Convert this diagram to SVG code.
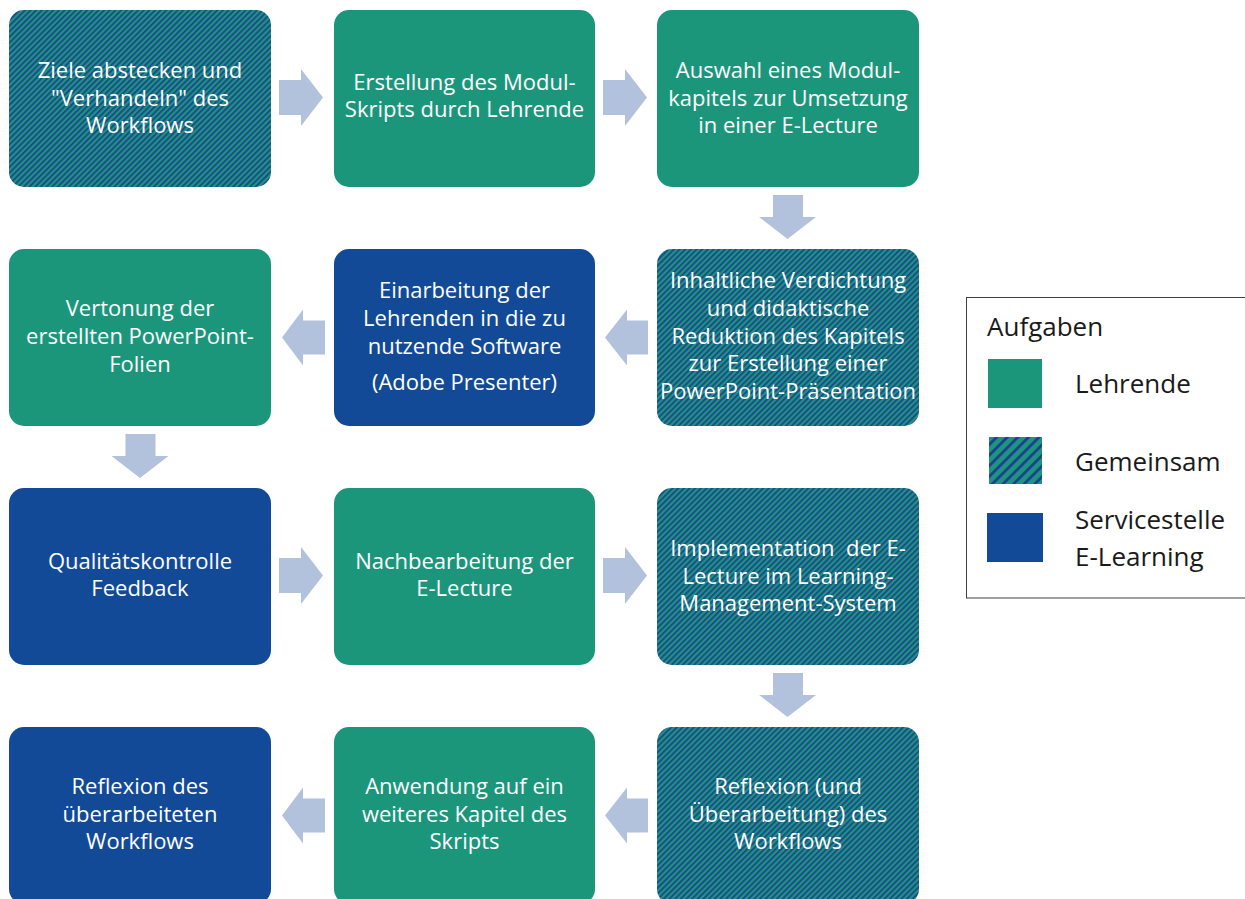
<svg xmlns="http://www.w3.org/2000/svg" width="1245" height="899" viewBox="0 0 1245 899">
<style>
.box{stroke:none}
.g{fill:#1b967b}
.b{fill:#124a97}
.s{fill:url(#stripes)}
.t{font-family:"Open Sans","Liberation Sans",sans-serif;font-size:22px;fill:#ffffff;text-anchor:middle;white-space:pre}
.lt{font-family:"Open Sans","Liberation Sans",sans-serif;font-size:26px;fill:#1a1a1a}
.arr{fill:#b3c2dc}
</style>
<defs>
<pattern id="stripes" patternUnits="userSpaceOnUse" width="4" height="4" patternTransform="rotate(45)">
<rect width="4" height="4" fill="#1b967b"/>
<rect width="1.7" height="4" fill="#1f3f94"/>
</pattern>
<pattern id="stripesL" patternUnits="userSpaceOnUse" width="7.5" height="7.5" patternTransform="rotate(45)">
<rect width="7.5" height="7.5" fill="#1b967b"/>
<rect width="2.8" height="7.5" fill="#1f3f94"/>
</pattern>
</defs>
<rect width="1245" height="899" fill="#ffffff"/>

<g id="connectors">
<polygon class="arr" points="279,80 301,80 301,69 323,97.5 301,126 301,115 279,115"/>
<polygon class="arr" points="603,80 625,80 625,69 647,97.5 625,126 625,115 603,115"/>
<polygon class="arr" points="773,195 803,195 803,217 816,217 787.5,239 759,217 773,217"/>
<polygon class="arr" points="648,320.5 627,320.5 627,309.5 605,337.5 627,365.5 627,354.5 648,354.5"/>
<polygon class="arr" points="325,320.5 303,320.5 303,309.5 282,337.5 303,365.5 303,354.5 325,354.5"/>
<polygon class="arr" points="125.5,434 155.5,434 155.5,456 168.5,456 140,478 111.5,456 125.5,456"/>
<polygon class="arr" points="279,558 301,558 301,547 323,575.5 301,604 301,593 279,593"/>
<polygon class="arr" points="603,558 625,558 625,547 647,575.5 625,604 625,593 603,593"/>
<polygon class="arr" points="773,673 803,673 803,695 816,695 787.5,717 759,695 773,695"/>
<polygon class="arr" points="648,798.5 627,798.5 627,787.5 605,815.5 627,843.5 627,832.5 648,832.5"/>
<polygon class="arr" points="325,798.5 303,798.5 303,787.5 282,815.5 303,843.5 303,832.5 325,832.5"/>
</g>

<g id="n1">
<rect class="box s" x="9" y="10" width="262" height="177" rx="15"/>
<text class="t" x="140" y="78">Ziele abstecken und</text>
<text class="t" x="140" y="105.5">"Verhandeln" des</text>
<text class="t" x="140" y="133">Workflows</text>
</g>
<g id="n2">
<rect class="box g" x="334" y="10" width="261" height="177" rx="15"/>
<text class="t" x="464.5" y="90">Erstellung des Modul-</text>
<text class="t" x="464.5" y="117">Skripts durch Lehrende</text>
</g>
<g id="n3">
<rect class="box g" x="657" y="10" width="262" height="177" rx="15"/>
<text class="t" x="788" y="78">Auswahl eines Modul-</text>
<text class="t" x="788" y="105.5">kapitels zur Umsetzung</text>
<text class="t" x="788" y="133">in einer E-Lecture</text>
</g>
<g id="n4">
<rect class="box s" x="657" y="249" width="262" height="177" rx="15"/>
<text class="t" x="788" y="288">Inhaltliche Verdichtung</text>
<text class="t" x="788" y="316">und didaktische</text>
<text class="t" x="788" y="344">Reduktion des Kapitels</text>
<text class="t" x="788" y="371">zur Erstellung einer</text>
<text class="t" x="788" y="399" textLength="256" lengthAdjust="spacingAndGlyphs">PowerPoint-Präsentation</text>
</g>
<g id="n5">
<rect class="box b" x="334" y="249" width="261" height="177" rx="15"/>
<text class="t" x="464.5" y="298">Einarbeitung der</text>
<text class="t" x="464.5" y="326">Lehrenden in die zu</text>
<text class="t" x="464.5" y="354">nutzende Software</text>
<text class="t" x="464.5" y="390">(Adobe Presenter)</text>
</g>
<g id="n6">
<rect class="box g" x="9" y="249" width="262" height="177" rx="15"/>
<text class="t" x="140" y="316">Vertonung der</text>
<text class="t" x="140" y="344">erstellten PowerPoint-</text>
<text class="t" x="140" y="372">Folien</text>
</g>
<g id="n7">
<rect class="box b" x="9" y="488" width="262" height="177" rx="15"/>
<text class="t" x="140" y="569">Qualitätskontrolle</text>
<text class="t" x="140" y="596">Feedback</text>
</g>
<g id="n8">
<rect class="box g" x="334" y="488" width="261" height="177" rx="15"/>
<text class="t" x="464.5" y="569">Nachbearbeitung der</text>
<text class="t" x="464.5" y="596">E-Lecture</text>
</g>
<g id="n9">
<rect class="box s" x="657" y="488" width="262" height="177" rx="15"/>
<text class="t" x="788" y="556" xml:space="preserve">Implementation  der E-</text>
<text class="t" x="788" y="584">Lecture im Learning-</text>
<text class="t" x="788" y="611">Management-System</text>
</g>
<g id="n10">
<rect class="box s" x="657" y="727" width="262" height="177" rx="15"/>
<text class="t" x="788" y="794">Reflexion (und</text>
<text class="t" x="788" y="822">Überarbeitung) des</text>
<text class="t" x="788" y="849">Workflows</text>
</g>
<g id="n11">
<rect class="box g" x="334" y="727" width="261" height="177" rx="15"/>
<text class="t" x="464.5" y="794">Anwendung auf ein</text>
<text class="t" x="464.5" y="822">weiteres Kapitel des</text>
<text class="t" x="464.5" y="849">Skripts</text>
</g>
<g id="n12">
<rect class="box b" x="9" y="727" width="262" height="177" rx="15"/>
<text class="t" x="140" y="794">Reflexion des</text>
<text class="t" x="140" y="822">überarbeiteten</text>
<text class="t" x="140" y="849">Workflows</text>
</g>

<g id="legend">
<rect x="966.5" y="297.5" width="290" height="300.5" fill="#ffffff" stroke="#404040" stroke-width="1"/>
<text class="lt" x="987" y="336">Aufgaben</text>
<rect x="988" y="359" width="54" height="49" fill="#1b967b"/>
<text class="lt" x="1075" y="393">Lehrende</text>
<rect x="989" y="437" width="53" height="47" fill="url(#stripesL)"/>
<text class="lt" x="1075" y="471">Gemeinsam</text>
<rect x="987" y="513" width="56" height="49" fill="#124a97"/>
<text class="lt" x="1075" y="529">Servicestelle</text>
<text class="lt" x="1075" y="566">E-Learning</text>
</g>
</svg>
